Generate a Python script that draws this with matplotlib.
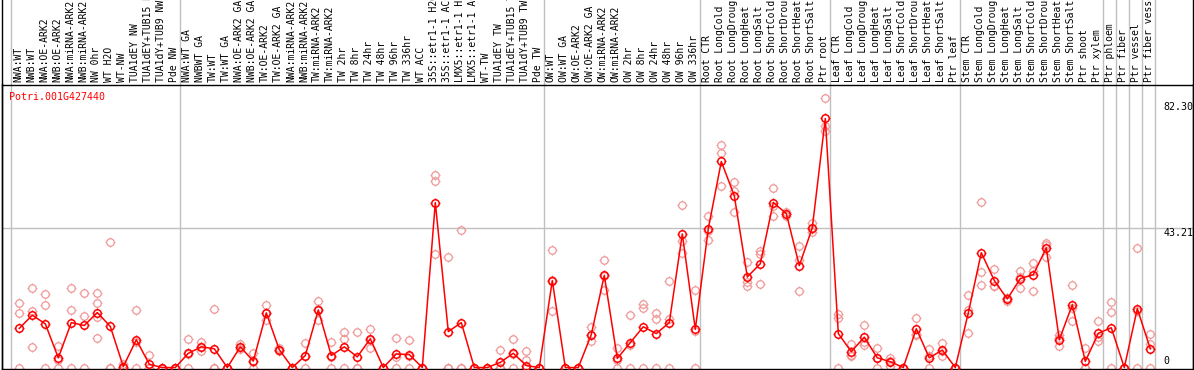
import numpy as np
import matplotlib
matplotlib.use("Agg")
import matplotlib.pyplot as plt
from matplotlib.path import Path
from matplotlib.lines import Line2D

# sample labels, left to right
labels = [
    "NWA:WT", "NWB:WT", "NWA:OE-ARK2", "NWB:OE-ARK2", "NWA:miRNA-ARK2", "NWB:miRNA-ARK2",
    "NW 0hr", "WT H2O", "WT-NW", "TUA1dEY NW", "TUA1dEY+TUB15 NW", "TUA1dY+TUB9 NW", "Pde NW",
    "NWA:WT GA", "NWBWT GA", "TW:WT", "TW:WT GA", "NWA:OE-ARK2 GA", "NWB:OE-ARK2 GA",
    "TW:OE-ARK2", "TW:OE-ARK2 GA", "NWA:miRNA-ARK2", "NWB:miRNA-ARK2", "TW:miRNA-ARK2",
    "TW:miRNA-ARK2", "TW 2hr", "TW 8hr", "TW 24hr", "TW 48hr", "TW 96hr", "TW 336hr",
    "WT ACC", "35S::etr1-1 H2O", "35S::etr1-1 ACC", "LMX5::etr1-1 H2O", "LMX5::etr1-1 ACC",
    "WT-TW", "TUA1dEY TW", "TUA1dEY+TUB15 TW", "TUA1dY+TUB9 TW", "Pde TW",
    "OW:WT", "OW:WT GA", "OW:OE-ARK2", "OW:OE-ARK2 GA", "OW:miRNA-ARK2", "OW:miRNA-ARK2",
    "OW 2hr", "OW 8hr", "OW 24hr", "OW 48hr", "OW 96hr", "OW 336hr",
    "Root CTR", "Root LongCold", "Root LongDrought", "Root LongHeat", "Root LongSalt",
    "Root ShortCold", "Root ShortDrought", "Root ShortHeat", "Root ShortSalt", "Ptr root",
    "Leaf CTR", "Leaf LongCold", "Leaf LongDrought", "Leaf LongHeat", "Leaf LongSalt",
    "Leaf ShortCold", "Leaf ShortDrought", "Leaf ShortHeat", "Leaf ShortSalt", "Ptr leaf",
    "Stem CTR", "Stem LongCold", "Stem LongDrought", "Stem LongHeat", "Stem LongSalt",
    "Stem ShortCold", "Stem ShortDrought", "Stem ShortHeat", "Stem ShortSalt", "Ptr shoot",
    "Ptr xylem", "Ptr phloem", "Ptr fiber", "Ptr vessel", "Ptr fiber vessel",
]

# mean expression per sample
means = [
    12.1, 16.2, 13.5, 3.0, 13.9, 13.0, 17.0, 12.7, 0.3, 8.6, 1.0, 0, 0,
    4.4, 6.4, 5.8, 0, 6.4, 2.0, 16.9, 5.5, 0, 3.7, 17.8, 3.7, 6.4, 3.3, 8.9, 0, 4.2,
    4.0, 0, 51.0, 11.1, 13.9, 0, 0, 1.6, 4.4, 0.6, 0,
    26.9, 0, 0, 10.2, 28.5, 2.8, 7.7, 12.6, 10.5, 13.9, 41.3, 11.8,
    42.9, 63.7, 53.1, 28.0, 32.1, 51.0, 47.6, 31.5, 43.2, 77.0,
    10.5, 4.9, 9.4, 3.0, 1.8, 0, 12.0, 3.0, 5.4, 0,
    16.9, 35.5, 26.9, 21.2, 27.5, 28.7, 37.0, 8.6, 19.4, 1.9, 10.6,
    12.3, 0, 18.2, 5.8,
]

# individual replicates per sample
replicates = [
    [19.8, 16.9, 0], [24.7, 17.5, 6.4], [22.6, 19.2, 0], [6.7, 2.3, 0], [24.7, 17.8, 0],
    [23.1, 15.8, 0], [23.1, 19.8, 15.7, 9.2], [38.7, 0, 0], [1.2, 0, 0], [17.8, 8.0, 0],
    [4.0, 0, 0], [0, 0, 0], [0, 0, 0],
    [8.9, 4.3, 0], [7.8, 6.4, 5.0], [18.2, 0, 0], [0, 0, 0], [7.3, 6.2, 5.8], [4.4, 1.6, 0],
    [19.2, 16.8, 14.7], [6.0, 5.5, 5.0], [0, 0, 0], [7.6, 3.5, 0], [20.7, 18.0, 14.7],
    [7.9, 3.2, 0], [11.1, 8.9, 0], [11.1, 0, 0], [12.0, 8.6, 6.1], [0, 0, 0], [9.2, 3.4, 0],
    [8.4, 3.6, 0], [0, 0, 0], [59.5, 57.6, 35.2], [34.3, 0, 0], [42.4, 0, 0], [0, 0, 0],
    [0, 0, 0], [5.3, 0, 0], [8.9, 4.3, 0], [5.0, 2.2, 0], [0, 0, 0],
    [36.2, 27.0, 17.5], [0, 0, 0], [0, 0, 0], [12.5, 10.0, 8.1], [33.1, 28.4, 24.0],
    [6.1, 2.3, 0], [16.1, 7.0, 0], [19.5, 18.5, 0], [16.9, 15.1, 0], [26.9, 15.1, 0],
    [50.1, 39.1, 35.5], [24.0, 11.4, 0],
    [47.0, 42.3, 39.4], [68.7, 66.2, 56.0], [57.3, 54.5, 48.0], [32.6, 26.4, 25.1],
    [35.9, 35.0, 25.7], [55.4, 49.9, 47.0], [48.2, 47.6, 47.0], [37.5, 33.2, 23.8],
    [44.8, 42.8, 42.0], [83.4, 74.6, 73.1],
    [16.6, 15.4, 0], [7.3, 4.0, 3.5], [13.0, 8.0, 7.1], [6.1, 2.9, 0], [3.0, 2.0, 0.4],
    [0, 0, 0], [15.4, 10.3, 10.2], [5.6, 3.5, 0], [7.6, 5.0, 3.5], [0, 0, 0],
    [22.3, 17.7, 10.7], [51.3, 29.6, 25.5], [30.5, 25.2, 25.1], [21.5, 21.5, 20.5],
    [29.8, 28.0, 24.6], [32.4, 29.9, 23.8], [38.6, 37.8, 34.2], [10.2, 9.0, 6.6],
    [25.4, 18.5, 14.3], [6.1, 0, 0], [14.4, 9.3, 8.1],
    [20.3, 17.2, 0], [0, 0, 0], [37.0, 17.6, 0], [10.4, 7.3, 0],
]

group_starts = [0, 13, 41, 53, 63, 73, 84, 85, 86, 87, 88]
ytick_vals = [82.30, 43.21, 0]
gene = "Potri.001G427440"

# little ticks sticking out of each circle
tick_path = Path([(1, 0), (1.4, 0), (-1, 0), (-1.4, 0), (0, 1), (0, 1.4), (0, -1), (0, -1.4)],
                 [Path.MOVETO, Path.LINETO] * 4)
CIRC = 5.4
TICK = CIRC * 1.4

mono = "DejaVu Sans Mono"
W, H = 1194, 370
fig = plt.figure(figsize=(W / 100, H / 100), dpi=100)
ax = fig.add_axes([1.5 / W, 1.5 / H, (1193 - 1.5) / W, (369 - 85) / H])

x = np.arange(len(labels))
px0, step = 19.3, 13.0
ax.set_xlim((1.5 - px0) / step, (1193 - px0) / step)
ax.set_ylim(-0.3, 87.5)


def circles(xs, ys, color, lw, z):
    ax.plot(xs, ys, linestyle="none", marker="o", markersize=CIRC, markerfacecolor="none",
            markeredgecolor=color, markeredgewidth=lw, zorder=z)
    ax.plot(xs, ys, linestyle="none", marker=tick_path, markersize=TICK,
            markeredgecolor=color, markeredgewidth=lw * 0.9, zorder=z)


rx = [i for i, r in enumerate(replicates) for _ in r]
ry = [v for r in replicates for v in r]
circles(rx, ry, "#f09696", 0.9, 2)

ax.plot(x, means, color="#ff0000", lw=1.1, zorder=3)
circles(x, means, "#ff0000", 1.1, 3)

ax.axhline(43.21, color="#c0c0c0", lw=1.0, zorder=1)
for g in group_starts:
    ax.axvline(g - 0.62, ymin=0, ymax=369 / 284, color="#c0c0c0", lw=1.0,
               zorder=1, clip_on=False)

for i, lab in enumerate(labels):
    ax.text(i - 0.1, 1.0 + 2 / 284, lab, rotation=90, ha="center", va="bottom",
            fontsize=7.0, family=mono, transform=ax.get_xaxis_transform(), clip_on=False)

for v in ytick_vals:
    ax.text(88.0, v + (0.4 if v == 0 else -0.2), f"{v:.2f}" if v else "0",
            ha="left", va="bottom" if v == 0 else "top", fontsize=7.2, family=mono)

ax.text(8 / 1192, 0.972, gene, color="#ff0000", fontsize=7.2, family=mono,
        ha="left", va="top", transform=ax.transAxes)

ax.set_xticks([])
ax.set_yticks([])
for s in ax.spines.values():
    s.set_linewidth(1.0)
    s.set_color("black")

fig.add_artist(Line2D([1.5 / W, 1.5 / W], [0, 1], color="black", lw=1.0))
fig.add_artist(Line2D([1193 / W, 1193 / W], [0, 1], color="black", lw=1.0))

fig.savefig("out.png", dpi=100)
